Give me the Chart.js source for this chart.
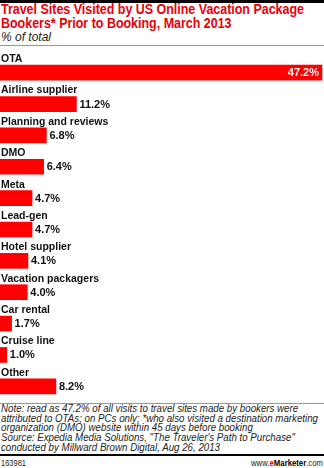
<!DOCTYPE html>
<html>
<head>
<meta charset="utf-8">
<script src="https://cdn.jsdelivr.net/npm/chart.js@4.4.0/dist/chart.umd.min.js"></script>
<style>
  html, body { margin: 0; padding: 0; background: #fff; }
  body { width: 324px; height: 468px; position: relative; overflow: hidden;
         font-family: "Liberation Sans", Arial, sans-serif; }
  .fit { display: inline-block; white-space: nowrap; transform-origin: 0 0; }
  .topbar { position: absolute; left: 0; top: 0; width: 324px; height: 3px; background: #000; }
  .title { position: absolute; left: 1px; top: 2px; color: #e8000b; font-weight: bold;
           font-size: 14px; line-height: 14px; }
  .sub { position: absolute; left: 1px; top: 30px; font-style: italic; font-size: 12px; color: #222; }
  .rule { position: absolute; left: 0; width: 324px; height: 1px; background: #999; }
  .wrap { position: absolute; left: 0; top: 47px; width: 324px; height: 356px; }
  .note { position: absolute; left: 1px; top: 404px; font-style: italic; font-size: 10px;
          line-height: 9.7px; color: #222; }
  .botbar { position: absolute; left: 0; top: 454px; width: 324px; height: 2px; background: #000; }
  .id { position: absolute; left: 1px; top: 458px; font-size: 8.5px; color: #222; }
  .brand { position: absolute; left: 251px; top: 457px; font-size: 9.5px; color: #222; }
  .brand b { color: #000; }
  .brand .e { color: #e8000b; }
</style>
</head>
<body>
<div class="topbar"></div>
<div class="title fit" data-w="303">Travel Sites Visited by US Online Vacation Package<br>Bookers* Prior to Booking, March 2013</div>
<div class="sub">% of total</div>
<div class="rule" style="top:45px"></div>
<div class="wrap"><canvas id="chart"></canvas></div>
<div class="rule" style="top:403px"></div>
<div class="note fit" data-w="317">Note: read as 47.2% of all visits to travel sites made by bookers were<br>attributed to OTAs; on PCs only; *who also visited a destination marketing<br>organization (DMO) website within 45 days before booking<br>Source: Expedia Media Solutions, "The Traveler's Path to Purchase"<br>conducted by Millward Brown Digital, Aug 26, 2013</div>
<div class="botbar"></div>
<div class="id fit" data-w="25">163981</div>
<div class="brand fit" data-w="72">www.<b class="e">e</b><b>Marketer</b>.com</div>

<script>
const categories = ['OTA', 'Airline supplier', 'Planning and reviews', 'DMO', 'Meta', 'Lead-gen',
  'Hotel supplier', 'Vacation packagers', 'Car rental', 'Cruise line', 'Other']
const values = [47.2, 11.2, 6.8, 6.4, 4.7, 4.7, 4.1, 4.0, 1.7, 1.0, 8.2]

const FONT = '"Liberation Sans", Arial, sans-serif'

// squeeze the text blocks horizontally, the original uses a condensed face
document.querySelectorAll('.fit').forEach(el => {
  const w = el.getBoundingClientRect().width
  el.style.transform = 'scaleX(' + (el.dataset.w / w) + ')'
})

// labels above each bar + value at the bar end
const rowLabels = {
  id: 'rowLabels',
  afterDatasetsDraw(chart) {
    const ctx = chart.ctx
    const meta = chart.getDatasetMeta(0)
    ctx.save()
    ctx.textBaseline = 'middle'
    meta.data.forEach((bar, i) => {
      const top = bar.y - bar.height / 2
      ctx.font = 'bold 10.5px ' + FONT
      ctx.fillStyle = '#111'
      ctx.textAlign = 'left'
      ctx.fillText(categories[i], 1, top - 6)
      ctx.font = 'bold 11px ' + FONT
      const txt = values[i].toFixed(1) + '%'
      if (i === 0) {
        ctx.fillStyle = '#fff'
        ctx.textAlign = 'right'
        ctx.fillText(txt, bar.x - 3, bar.y + 0.5)
      } else {
        ctx.fillStyle = '#111'
        ctx.textAlign = 'left'
        ctx.fillText(txt, bar.x + 3, bar.y + 0.5)
      }
    })
    ctx.restore()
  }
}

new Chart(document.getElementById('chart'), {
  type: 'bar',
  data: {
    labels: categories,
    datasets: [{
      data: values,
      backgroundColor: '#ff0000',
      borderWidth: 0,
      barThickness: 15
    }]
  },
  options: {
    indexAxis: 'y',
    responsive: true,
    maintainAspectRatio: false,
    animation: false,
    layout: { padding: { top: 10, bottom: 1, left: 0, right: 0 } },
    plugins: { legend: { display: false }, tooltip: { enabled: false } },
    scales: {
      x: { display: false, min: 0, max: 47.5 },
      y: { display: false }
    }
  },
  plugins: [rowLabels]
})
</script>
</body>
</html>
